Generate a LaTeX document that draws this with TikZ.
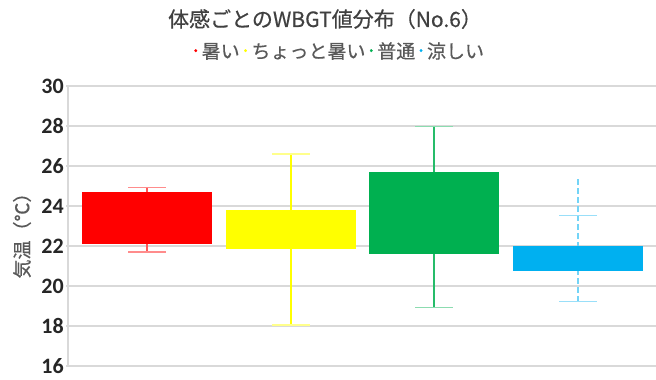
\documentclass[tikz,border=0pt]{standalone}
\usepackage{fontspec}
\setmainfont{Noto Sans CJK JP}
\newfontfamily\jpfont{Noto Sans CJK JP}[FakeBold=0.5]
\newfontfamily\numfont{Carlito}
\definecolor{gridgray}{HTML}{D9D9D9}
\definecolor{titlegray}{HTML}{404040}
\definecolor{textgray}{HTML}{595959}
\definecolor{hotred}{HTML}{FF0000}
\definecolor{warmyellow}{HTML}{FFFF00}
\definecolor{normalgreen}{HTML}{00B050}
\definecolor{coolblue}{HTML}{00B0F0}
% box: centre, q1, q3, low, high, box colour, whisker colour
\newcommand{\wbgtbox}[7]{%
  \draw[whisker,#7] (#1,#4) -- (#1,#5);
  \draw[whisker,#6!45] (#1-19,#4) -- (#1+19,#4);
  \draw[whisker,#6!45] (#1-19,#5) -- (#1+19,#5);
  \fill[#6] (#1-65,#2) rectangle (#1+65,#3);
}
\newcommand{\legdot}[1]{\textcolor{#1}{{\fontsize{21}{19}\selectfont ·}}}

\begin{document}
\begin{tikzpicture}[x=1pt,y=1pt,
  grid line/.style={gridgray,line width=1.3pt},
  whisker/.style={line width=1.1pt},
  tick label/.style={font=\numfont\bfseries\fontsize{22}{22}\selectfont,
    text=black!85,anchor=east,inner sep=0pt}]
\useasboundingbox (0,0) rectangle (656,380);

\node[text=titlegray,font=\jpfont\fontsize{21}{21}\selectfont] (title) at (325,361)
  {体感ごとのWBGT値分布（No.6）};
\node[text=textgray,font=\jpfont\fontsize{19}{19}\selectfont] (legend) at (337,329)
  {\legdot{hotred}暑い\legdot{warmyellow}ちょっと暑い\legdot{normalgreen}普通\legdot{coolblue}涼しい};
\node[text=textgray,font=\jpfont\fontsize{19}{19}\selectfont,rotate=90] (ylabel) at (22,149)
  {気温（℃）};

% value v sits at 20v-306
\begin{scope}[y=20pt,yshift=-306pt]
\foreach \v in {16,18,...,30}{
  \draw[grid line] (66,\v) -- (656,\v);
  \node[tick label] (t\v) at (64,\v) {\v};
}
\draw[grid line] (68,16) -- (68,30);

\wbgtbox{147}{22.12}{24.72}{21.7}{24.94}{hotred}{hotred!65}
\wbgtbox{291}{21.84}{23.82}{18.05}{26.6}{warmyellow}{warmyellow}
\wbgtbox{434}{21.6}{25.72}{18.92}{27.97}{normalgreen}{normalgreen!85}

% cool: dashed whisker above the cap
\draw[whisker,coolblue!55,dash pattern=on 6pt off 3pt] (578,19.22) -- (578,25.35);
\draw[whisker,coolblue!40] (559,19.22) -- (597,19.22);
\draw[whisker,coolblue!40] (559,23.52) -- (597,23.52);
\fill[coolblue] (513,20.74) rectangle (643,22.02);
\end{scope}
\end{tikzpicture}
\end{document}
